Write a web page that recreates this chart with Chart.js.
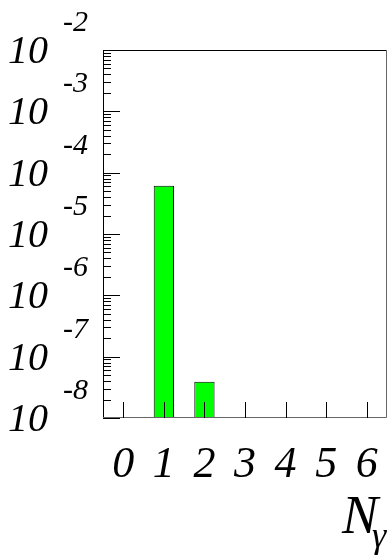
<!DOCTYPE html>
<html>
<head>
<meta charset="utf-8">
<script src="https://cdn.jsdelivr.net/npm/chart.js@4/dist/chart.umd.min.js"></script>
<style>
  html, body { margin: 0; padding: 0; background: #fff; }
  #wrap { width: 388px; height: 558px; }
</style>
</head>
<body>
<div id="wrap"><canvas id="nGammaChart" width="388" height="558"></canvas></div>
<script>
// photon multiplicity
const categories = ['0', '1', '2', '3', '4', '5', '6'];
const values = [null, 6.1e-5, 3.9e-8, null, null, null, null];
const yExponents = [-2, -3, -4, -5, -6, -7, -8];
const xTitle = 'N';
const xTitleSub = 'γ';

const serif = '"Liberation Serif", "Times New Roman", serif';

const axesPlugin = {
    id: 'rootAxes',
    afterDraw(chart) {
        const ctx = chart.ctx;
        const xs = chart.scales.x;
        const ys = chart.scales.y;
        const a = chart.chartArea;
        ctx.save();

        // frame
        ctx.strokeStyle = '#000';
        ctx.lineWidth = 1;
        ctx.beginPath();
        ctx.moveTo(a.left + 0.5, a.bottom);
        ctx.lineTo(a.left + 0.5, a.top + 0.5);
        ctx.lineTo(a.right - 0.5, a.top + 0.5);
        ctx.stroke();
        ctx.strokeStyle = '#666';
        ctx.beginPath();
        ctx.moveTo(a.right - 0.5, a.top);
        ctx.lineTo(a.right - 0.5, a.bottom - 0.5);
        ctx.lineTo(a.left, a.bottom - 0.5);
        ctx.stroke();

        // y ticks: majors and log minors
        ctx.strokeStyle = '#000';
        ctx.beginPath();
        yExponents.forEach((e) => {
            const y = Math.round(ys.getPixelForValue(Math.pow(10, e))) + 0.5;
            ctx.moveTo(a.left, y);
            ctx.lineTo(a.left + 17, y);
            if (e > yExponents[yExponents.length - 1]) {
                for (let m = 2; m <= 9; m++) {
                    const ym = Math.round(ys.getPixelForValue(m * Math.pow(10, e - 1))) + 0.5;
                    ctx.moveTo(a.left, ym);
                    ctx.lineTo(a.left + 8, ym);
                }
            }
        });
        ctx.stroke();

        // x ticks
        ctx.beginPath();
        categories.forEach((c, i) => {
            const x = Math.round(xs.getPixelForValue(i)) + 0.5;
            ctx.moveTo(x, a.bottom);
            ctx.lineTo(x, a.bottom - 16);
        });
        ctx.stroke();

        // y labels
        ctx.fillStyle = '#000';
        yExponents.forEach((e) => {
            const y = ys.getPixelForValue(Math.pow(10, e));
            ctx.font = 'italic 40px ' + serif;
            ctx.textAlign = 'right';
            ctx.textBaseline = 'alphabetic';
            ctx.fillText('10', 48, y + 13);
            ctx.font = 'italic 30px ' + serif;
            ctx.textAlign = 'left';
            ctx.fillText(String(e), 63, y - 19);
        });

        // x labels
        ctx.font = 'italic 44px ' + serif;
        ctx.textAlign = 'center';
        categories.forEach((c, i) => {
            ctx.fillText(c, xs.getPixelForValue(i), 477);
        });

        // x title
        ctx.font = 'italic 54px ' + serif;
        ctx.textAlign = 'right';
        ctx.fillText(xTitle, 378, 533);
        ctx.font = 'italic 36px ' + serif;
        ctx.textAlign = 'left';
        ctx.fillText(xTitleSub, 372, 547);

        ctx.restore();
    }
};

new Chart(document.getElementById('nGammaChart').getContext('2d'), {
    type: 'bar',
    data: {
        labels: categories,
        datasets: [{
            data: values,
            backgroundColor: '#00ff00',
            borderColor: '#000',
            borderWidth: 1,
            borderSkipped: 'bottom',
            barPercentage: 0.5,
            categoryPercentage: 1.0
        }]
    },
    options: {
        responsive: false,
        animation: false,
        layout: { padding: { left: 103, top: 50, right: 1, bottom: 140 } },
        plugins: { legend: { display: false }, tooltip: { enabled: false } },
        scales: {
            x: { type: 'category', display: false, offset: true },
            y: { type: 'logarithmic', display: false, min: 1e-8, max: 1e-2 }
        }
    },
    plugins: [axesPlugin]
});
</script>
</body>
</html>
